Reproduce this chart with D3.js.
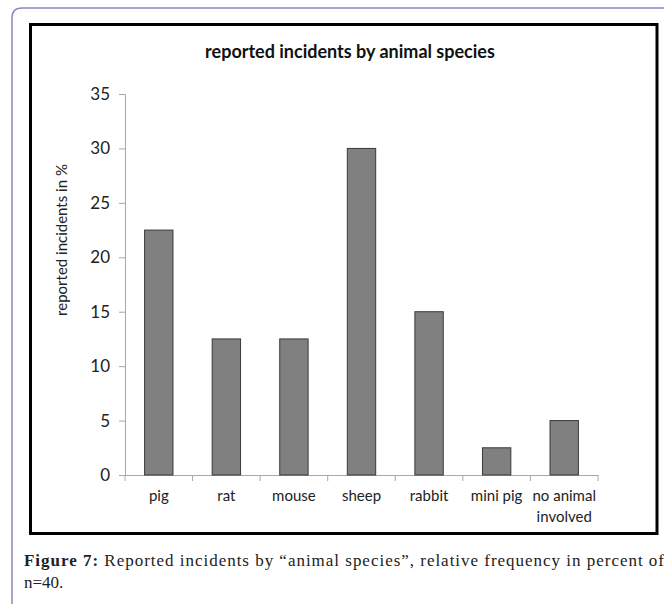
<!DOCTYPE html>
<html>
<head>
<meta charset="utf-8">
<script src="https://cdn.jsdelivr.net/npm/d3@7"></script>
<style>
  body { margin: 0; background: #fff; }
  svg { display: block; }
</style>
</head>
<body>
<script>
const species = ["pig", "rat", "mouse", "sheep", "rabbit", "mini pig", "no animal\ninvolved"];
const percent = [22.5, 12.5, 12.5, 30, 15, 2.5, 5];
const yTicks = [0, 5, 10, 15, 20, 25, 30, 35];

const W = 664, H = 604;
const font = "Lato, 'Open Sans', sans-serif";

const svg = d3.select("body").append("svg")
    .attr("width", W)
    .attr("height", H);

// page frame with rounded corner
svg.append("path")
    .attr("d", `M12,${H} L12,18 Q12,8 22,8 L${W},8`)
    .attr("fill", "none")
    .attr("stroke", "#8a86c0")
    .attr("stroke-width", 1.5);

// black chart frame
svg.append("rect")
    .attr("x", 30.5).attr("y", 24.5)
    .attr("width", 626.5).attr("height", 509)
    .attr("fill", "none")
    .attr("stroke", "#000")
    .attr("stroke-width", 3);

svg.append("text")
    .attr("x", 350).attr("y", 58)
    .attr("text-anchor", "middle")
    .attr("font-family", font)
    .attr("font-weight", "bold")
    .attr("font-size", 18)
    .attr("fill", "#111")
    .text("reported incidents by animal species");

let x = d3.scaleBand()
    .domain(species)
    .range([125, 598])
    .paddingInner(0.58)
    .paddingOuter(0.29);
let y = d3.scaleLinear()
    .domain([0, 35])
    .range([475, 94]);

let yAxis = svg.append("g")
    .attr("transform", "translate(125,0)")
    .call(d3.axisLeft(y).tickValues(yTicks).tickSize(6).tickPadding(9));
yAxis.select(".domain").attr("stroke", "#a8a8a8");
yAxis.selectAll(".tick line").attr("stroke", "#a8a8a8");
yAxis.selectAll(".tick text")
    .attr("font-family", font)
    .attr("font-size", 17)
    .attr("fill", "#222");

let xAxis = svg.append("g")
    .attr("transform", "translate(0,475)")
    .call(d3.axisBottom(x).tickSize(0).tickFormat(""));
xAxis.select(".domain").attr("stroke", "#a8a8a8");

// category boundary ticks
let step = x.step();
svg.append("g")
    .selectAll("line")
    .data(d3.range(species.length + 1))
    .enter()
    .append("line")
    .attr("x1", i => 125 + i * step)
    .attr("x2", i => 125 + i * step)
    .attr("y1", 475)
    .attr("y2", 481)
    .attr("stroke", "#a8a8a8");

svg.append("g")
    .selectAll("text")
    .data(species)
    .enter()
    .append("text")
    .attr("text-anchor", "middle")
    .attr("font-family", font)
    .attr("font-size", 15)
    .attr("fill", "#222")
    .each(function(d) {
        let t = d3.select(this);
        d.split("\n").forEach((line, i) => {
            t.append("tspan")
                .attr("x", x(d) + x.bandwidth() / 2)
                .attr("y", 501 + i * 21)
                .text(line);
        });
    });

svg.append("g")
    .selectAll("rect")
    .data(percent)
    .enter()
    .append("rect")
    .attr("x", (d, i) => x(species[i]))
    .attr("y", d => y(d))
    .attr("width", x.bandwidth())
    .attr("height", d => y(0) - y(d))
    .attr("fill", "#808080")
    .attr("stroke", "#3a3a3a")
    .attr("stroke-width", 1);

svg.append("text")
    .attr("transform", "translate(67,240) rotate(-90)")
    .attr("text-anchor", "middle")
    .attr("font-family", font)
    .attr("font-size", 15)
    .attr("fill", "#222")
    .text("reported incidents in %");

// caption
let cap = svg.append("text")
    .attr("x", 24).attr("y", 566)
    .attr("font-family", "'Liberation Serif', 'Times New Roman', serif")
    .attr("font-size", 17)
    .attr("fill", "#222")
    .attr("textLength", 640)
    .attr("lengthAdjust", "spacing");
cap.append("tspan").attr("font-weight", "bold").text("Figure 7:");
cap.append("tspan").text(" Reported incidents by \u201canimal species\u201d, relative frequency in percent of");

svg.append("text")
    .attr("x", 24).attr("y", 588)
    .attr("font-family", "'Liberation Serif', 'Times New Roman', serif")
    .attr("font-size", 17)
    .attr("fill", "#222")
    .text("n=40.");
</script>
</body>
</html>
